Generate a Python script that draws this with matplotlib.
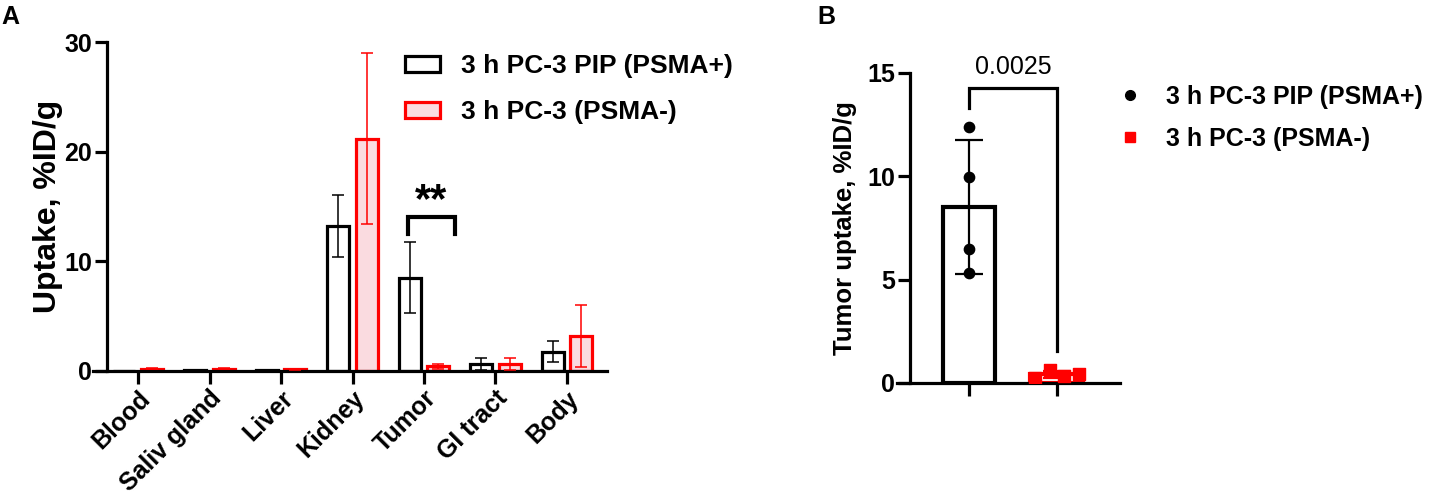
import numpy as np
import matplotlib
matplotlib.use('Agg')
import matplotlib.pyplot as plt
from matplotlib.patches import Patch
from matplotlib.lines import Line2D

plt.rcParams['font.family'] = ['Liberation Sans', 'DejaVu Sans']

# panel A data
organs = ['Blood', 'Saliv gland', 'Liver', 'Kidney', 'Tumor', 'GI tract', 'Body']
pip_mean = [0.02, 0.1, 0.1, 13.2, 8.5, 0.65, 1.75]
pip_sd = [0.0, 0.02, 0.02, 2.85, 3.25, 0.55, 0.95]
pc3_mean = [0.2, 0.22, 0.15, 21.2, 0.42, 0.6, 3.2]
pc3_sd = [0.05, 0.05, 0.03, 7.8, 0.2, 0.55, 2.8]

# panel B data
tumor_pip = [12.4, 9.95, 6.5, 5.3]
tumor_pc3 = [0.25, 0.65, 0.35, 0.45]
jitter_pc3 = [-0.25, -0.08, 0.08, 0.25]
p_value = '0.0025'

label_pip = '3 h PC-3 PIP (PSMA+)'
label_pc3 = '3 h PC-3 (PSMA-)'
red = '#ff0000'
pink = '#fadbe0'

fig = plt.figure(figsize=(14.35, 5.04), dpi=100)

# ---- panel A ----
axA = fig.add_axes([93 / 1435, 1 - 371 / 504, (607 - 93) / 1435, (371 - 42) / 504])
x = np.arange(len(organs))
w = 0.31
off = 0.2
axA.bar(x - off, pip_mean, w, color='white', edgecolor='black', linewidth=2.3, zorder=2)
axA.bar(x + off, pc3_mean, w, color=pink, edgecolor=red, linewidth=2.3, zorder=2)
axA.errorbar(x - off, pip_mean, yerr=pip_sd, fmt='none', ecolor='black',
             elinewidth=1.1, capsize=4, capthick=1.1, zorder=3)
axA.errorbar(x + off, pc3_mean, yerr=pc3_sd, fmt='none', ecolor=red,
             elinewidth=1.1, capsize=4, capthick=1.1, zorder=3)

axA.set_xlim(-0.63, 6.56)
axA.set_ylim(0, 30)
axA.spines['left'].set_position(('data', -0.43))
axA.spines['top'].set_visible(False)
axA.spines['right'].set_visible(False)
for s in ['left', 'bottom']:
    axA.spines[s].set_linewidth(2.3)
axA.set_yticks([0, 10, 20, 30])
axA.set_xticks(x)
axA.set_xticklabels(organs, rotation=45, ha='right', rotation_mode='anchor',
                    fontsize=18, fontweight='bold')
axA.tick_params(axis='both', width=2.3, length=9, labelsize=18, pad=2)
for t in axA.get_yticklabels():
    t.set_fontweight('bold')
axA.set_ylabel('Uptake, %ID/g', fontsize=23, fontweight='bold', labelpad=1)

# significance bracket on tumor
bx0, bx1, by = 3.78, 4.43, 14.0
axA.plot([bx0, bx0, bx1, bx1], [12.5, by, by, 12.5], color='black', lw=3,
         solid_joinstyle='miter', clip_on=False, zorder=4)
axA.text((bx0 + bx1) / 2, by - 0.3, '**', ha='center', va='bottom',
         fontsize=30, fontweight='bold')

legA = [Patch(facecolor='white', edgecolor='black', linewidth=2.3, label=label_pip),
        Patch(facecolor=pink, edgecolor=red, linewidth=2.3, label=label_pc3)]
fig.legend(handles=legA, loc='upper left', bbox_to_anchor=(405 / 1435, 1 - 54 / 504),
           frameon=False, prop={'family': 'Liberation Sans', 'weight': 'bold', 'size': 19},
           handlelength=1.33, handleheight=0.57, handletextpad=0.8, labelspacing=0.85,
           borderpad=0, borderaxespad=0)

fig.text(1 / 1435, 1 - 17 / 504, 'A', fontsize=18, fontweight='bold', va='center')

# ---- panel B ----
axB = fig.add_axes([897 / 1435, 1 - 383 / 504, (1120 - 897) / 1435, (383 - 73) / 504])
mB = [np.mean(tumor_pip), np.mean(tumor_pc3)]
sB = [np.std(tumor_pip, ddof=1), np.std(tumor_pc3, ddof=1)]
axB.bar([0], [mB[0]], 0.6, color='white', edgecolor='black', linewidth=3, zorder=2)
axB.bar([1], [mB[1]], 0.6, color='white', edgecolor=red, linewidth=3, zorder=2)
axB.errorbar([0], [mB[0]], yerr=[sB[0]], fmt='none', ecolor='black',
             elinewidth=1.6, capsize=10, capthick=1.6, zorder=3)
axB.errorbar([1], [mB[1]], yerr=[sB[1]], fmt='none', ecolor=red,
             elinewidth=1.6, capsize=10, capthick=1.6, zorder=3)
axB.scatter(np.zeros(len(tumor_pip)), tumor_pip, s=55, color='black', zorder=4)
axB.scatter(1 + np.array(jitter_pc3), tumor_pc3, s=75, marker='s', color=red, zorder=4)

axB.set_xlim(-0.82, 1.72)
axB.set_ylim(0, 15)
axB.spines['left'].set_position(('data', -0.67))
axB.spines['top'].set_visible(False)
axB.spines['right'].set_visible(False)
for s in ['left', 'bottom']:
    axB.spines[s].set_linewidth(2.3)
axB.set_yticks([0, 5, 10, 15])
axB.set_xticks([0, 1])
axB.set_xticklabels(['', ''])
axB.tick_params(axis='both', width=2.3, length=9, labelsize=18, pad=2)
for t in axB.get_yticklabels():
    t.set_fontweight('bold')
axB.set_ylabel('Tumor uptake, %ID/g', fontsize=18.5, fontweight='bold', labelpad=7)

axB.plot([0, 0, 1, 1], [13.3, 14.25, 14.25, 1.55], color='black', lw=2.3,
         solid_joinstyle='miter', clip_on=False, zorder=4)
axB.text(0.5, 14.7, p_value, ha='center', va='bottom', fontsize=18)

legB = [Line2D([], [], marker='o', color='black', linestyle='none', markersize=7, label=label_pip),
        Line2D([], [], marker='s', color=red, linestyle='none', markersize=7, label=label_pc3)]
fig.legend(handles=legB, loc='upper left', bbox_to_anchor=(1117 / 1435, 1 - 85 / 504),
           frameon=False, prop={'family': 'Liberation Sans', 'weight': 'bold', 'size': 18},
           handlelength=1.0, handletextpad=0.98, labelspacing=0.7,
           borderpad=0, borderaxespad=0)

fig.text(817 / 1435, 1 - 17 / 504, 'B', fontsize=18, fontweight='bold', va='center')

plt.savefig('out.png', dpi=100)
